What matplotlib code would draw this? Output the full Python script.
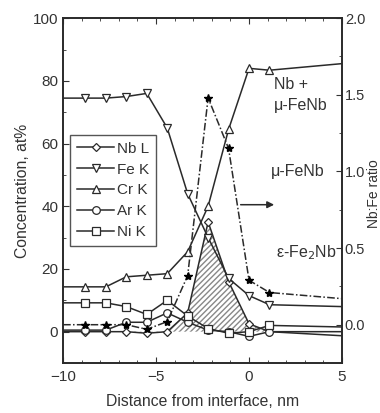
import matplotlib
matplotlib.use("Agg")
import matplotlib.pyplot as plt

plt.rcParams['font.family'] = ['Liberation Sans', 'DejaVu Sans']

# distance from interface (nm); first and last entries are the line ends at the axis edges
dist = [-10, -8.8, -7.7, -6.6, -5.5, -4.4, -3.3, -2.2, -1.1, 0.0, 1.1, 5]

nb_l = [0, 0, 0, 0, -0.5, 0, 6, 35, 16, 2.5, 0, 0]
fe_k = [74.5, 74.5, 74.5, 75, 76, 65, 44, 30, 17, 11.5, 8.6, 8]
cr_k = [14.3, 14.3, 14.3, 17.5, 18, 18.5, 25.5, 40, 64.5, 84, 83.4, 85.5]
ar_k = [0.5, 0.5, 0.5, 3, 3, 6, 3, 0.5, 0, -1.5, 0, -1.3]
ni_k = [9.2, 9.2, 9.2, 8, 5.5, 10, 5, 1, -0.5, 0, 2, 1.5]
nb_fe_ratio = [0, 0, 0, 0, -0.03, 0.02, 0.32, 1.48, 1.15, 0.29, 0.21, 0.17]

series = [("Nb L", nb_l, "D"), ("Fe K", fe_k, "v"), ("Cr K", cr_k, "^"),
          ("Ar K", ar_k, "o"), ("Ni K", ni_k, "s")]

fig = plt.figure(figsize=(3.8, 4.13), dpi=100)
ax = fig.add_axes([0.166, 0.121, 0.734, 0.835])
ax2 = ax.twinx()

ink = "#2a2a2a"
txt = "#333333"
marks = slice(1, -1)

ax.fill_between(dist, nb_l, 0, facecolor="none", edgecolor="#888888",
                hatch="//////", linewidth=0)
for name, vals, m in series:
    ax.plot(dist, vals, color=ink, lw=1.1, marker=m, markevery=marks,
            ms=5.5 if m != "D" else 4.5, mfc="white", mec=ink, mew=0.9,
            label=name)

ax2.plot(dist, nb_fe_ratio, color=ink, lw=1.1, ls=(0, (5, 1.5, 1, 1.5)),
         marker="*", markevery=marks, ms=6, mfc="black", mec="black")

ax.set_xlim(-10, 5)
ax.set_ylim(-10, 100)
ax2.set_ylim(-0.2, 2.0)
ax.set_xticks([-10, -5, 0, 5])
ax.set_xticks(range(-10, 6), minor=True)
ax.set_yticks([0, 20, 40, 60, 80, 100])
ax.set_yticks(range(-10, 101, 10), minor=True)
ax2.set_yticks([0.0, 0.5, 1.0, 1.5, 2.0])
ax2.set_yticks([-0.25 + 0.25 * i for i in range(10)], minor=True)
ax2.set_yticklabels(["0.0", "0.5", "1.0", "1.5", "2.0"])

ax.tick_params(which="both", direction="in", top=True, labelsize=11,
               colors=txt)
ax.tick_params(axis="x", pad=5)
ax.tick_params(which="major", length=4)
ax.tick_params(which="minor", length=2)
ax2.tick_params(which="both", direction="in", labelsize=10.5, colors=txt,
                pad=2)
ax2.tick_params(which="major", length=4)
ax2.tick_params(which="minor", length=2)
for a in (ax, ax2):
    for sp in a.spines.values():
        sp.set_color(ink)
        sp.set_linewidth(1.2)

ax.set_xlabel("Distance from interface, nm", fontsize=11.3, color=txt,
              labelpad=7)
ax.set_ylabel("Concentration, at%", fontsize=11.3, color=txt, labelpad=2)
fig.text(374.5 / 380, 0.53, "Nb:Fe ratio", rotation=90, fontsize=10,
         color=txt, ha="center", va="center")

ax.annotate("", xy=(1.5, 40.5), xytext=(-0.6, 40.5),
            arrowprops=dict(arrowstyle="-|>", color=ink, lw=1.1))

ax2.text(1.35, 1.5, "Nb +\n\u03bc-FeNb", fontsize=11.5, color=txt,
         va="center", ha="left", linespacing=1.55)
ax2.text(1.2, 1.0, "\u03bc-FeNb", fontsize=11.5, color=txt,
         va="center", ha="left")
ax2.text(4.7, 0.47, "\u03b5-Fe$_2$Nb", fontsize=11.5, color=txt,
         va="center", ha="right")

leg = ax.legend(loc="upper left", bbox_to_anchor=(0.01, 0.675), fontsize=11,
                handlelength=2.4, handletextpad=0.2, labelspacing=0.45,
                borderpad=0.45, borderaxespad=0.3, fancybox=False,
                edgecolor="#555555", framealpha=1)
for t in leg.get_texts():
    t.set_color(txt)

fig.savefig("out.png", dpi=100)
